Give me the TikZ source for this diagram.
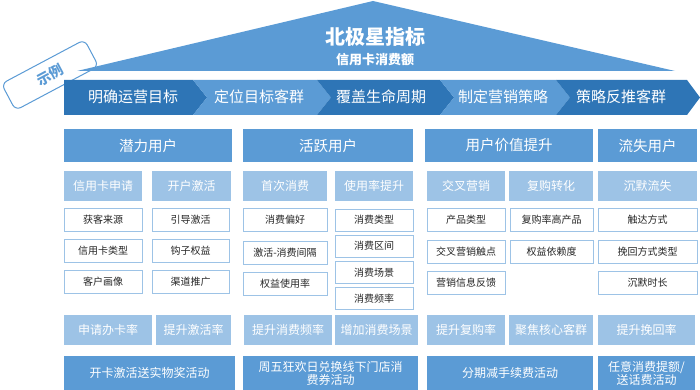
\documentclass[tikz,border=0pt]{standalone}
\usepackage{fontspec}
\setmainfont{Noto Sans CJK SC}
\usepackage{xcolor}
\usetikzlibrary{positioning,calc}
\definecolor{nsdark}{HTML}{2E75B6}
\definecolor{nsmid}{HTML}{5B9BD5}
\definecolor{nslight}{HTML}{9DC3E6}
\definecolor{nstext}{HTML}{262626}

\begin{document}
\begin{tikzpicture}[x=1pt, y=-1pt,
  head/.style={fill=nsmid, text=white, inner sep=0pt, minimum height=33pt, font=\fontsize{14.5}{16}\selectfont},
  sub/.style={fill=nslight, text=white, inner sep=0pt, minimum height=30pt, font=\fontsize{12}{14}\selectfont},
  item/.style={draw=nslight, line width=1pt, fill=white, text=nstext, inner sep=0pt, minimum height=23pt, font=\fontsize{10}{12}\selectfont},
  goal/.style={fill=nslight, text=white, inner sep=0pt, minimum height=30pt, font=\fontsize{12}{14}\selectfont},
  act/.style={fill=nsmid, text=white, inner sep=0pt, minimum height=34pt, align=center, font=\fontsize{12}{13}\selectfont},
  step label/.style={text=white, font=\fontsize{15}{16}\selectfont}
]
  \useasboundingbox (0,0) rectangle (700,390);

  % tag and north star triangle
  \node[draw=nsmid, line width=1pt, fill=white, rounded corners=6pt, rotate=28,
        minimum width=94pt, minimum height=30pt, text=nsmid, font=\fontsize{14}{16}\selectfont\bfseries] (tag) at (50,75) {示例};
  \fill[nsmid] (77,71) -- (373,1) -- (675,71) -- cycle;
  \node[text=white, font=\fontsize{20}{22}\selectfont\bfseries] (star) at (375,37) {北极星指标};
  \node[text=white, font=\fontsize{13}{15}\selectfont\bfseries, below=0pt of star] (metric) {信用卡消费额};

  % process chevrons
  \fill[nsdark] (64,80) -- (193,80) -- (207,97.5) -- (193,115) -- (64,115) -- cycle;
  \fill[nsmid]  (193,80) -- (317,80) -- (331,97.5) -- (317,115) -- (193,115) -- (207,97.5) -- cycle;
  \fill[nsdark] (317,80) -- (440,80) -- (454,97.5) -- (440,115) -- (317,115) -- (331,97.5) -- cycle;
  \fill[nsmid]  (440,80) -- (556,80) -- (570,97.5) -- (556,115) -- (440,115) -- (454,97.5) -- cycle;
  \fill[nsdark] (556,80) -- (687,80) -- (700,97.5) -- (687,115) -- (556,115) -- (570,97.5) -- cycle;
  \node[step label] (s1) at (133,97) {明确运营目标};
  \node[step label] (s2) at (259,97) {定位目标客群};
  \node[step label] (s3) at (381,97) {覆盖生命周期};
  \node[step label] (s4) at (503,97) {制定营销策略};
  \node[step label] (s5) at (621,97) {策略反推客群};

  % user groups
  \node[head, minimum width=168pt] (potential) at (148,145.5) {潜力用户};
  \node[head, minimum width=170pt] (active)    at (328,145.5) {活跃用户};
  \node[head, minimum width=168pt] (value)     at (509,145.5) {用户价值提升};
  \node[head, minimum width=99pt]  (lost)      at (647.5,145.5) {流失用户};

  \node[sub, minimum width=78pt] (apply)    at (103,186)   {信用卡申请};
  \node[sub, minimum width=79pt] (open)     at (191.5,186) {开户激活};
  \node[sub, minimum width=84pt] (first)    at (285,186)   {首次消费};
  \node[sub, minimum width=78pt] (usage)    at (374,186)   {使用率提升};
  \node[sub, minimum width=78pt] (cross)    at (466,186)   {交叉营销};
  \node[sub, minimum width=84pt] (rebuy)    at (551,186)   {复购转化};
  \node[sub, minimum width=99pt] (silent)   at (647.5,186) {沉默流失};

  % analysis items
  \node[item, minimum width=78pt] (a1) at (103,220)   {获客来源};
  \node[item, minimum width=78pt] (a2) at (103,251)   {信用卡类型};
  \node[item, minimum width=78pt] (a3) at (103,281.5) {客户画像};
  \node[item, minimum width=77pt] (b1) at (190.5,220)   {引导激活};
  \node[item, minimum width=77pt] (b2) at (190.5,251)   {钩子权益};
  \node[item, minimum width=77pt] (b3) at (190.5,281.5) {渠道推广};
  \node[item, minimum width=84pt] (c1) at (285,220)   {消费偏好};
  \node[item, minimum width=84pt] (c2) at (285,253)   {激活-消费间隔};
  \node[item, minimum width=84pt] (c3) at (285,283.5) {权益使用率};
  \node[item, minimum width=78pt, minimum height=22pt] (d1) at (374,220)   {消费类型};
  \node[item, minimum width=78pt, minimum height=22pt] (d2) at (374,246)   {消费区间};
  \node[item, minimum width=78pt, minimum height=22pt] (d3) at (374,272.5) {消费场景};
  \node[item, minimum width=78pt, minimum height=22pt] (d4) at (374,298.5) {消费频率};
  \node[item, minimum width=78pt] (e1) at (466,220)   {产品类型};
  \node[item, minimum width=78pt] (e2) at (466,251.5) {交叉营销触点};
  \node[item, minimum width=78pt] (e3) at (466,283)   {营销信息反馈};
  \node[item, minimum width=83pt] (f1) at (551.5,220)   {复购率高产品};
  \node[item, minimum width=83pt] (f2) at (551.5,251.5) {权益依赖度};
  \node[item, minimum width=99pt] (g1) at (647.5,220)   {触达方式};
  \node[item, minimum width=99pt] (g2) at (647.5,251.5) {挽回方式类型};
  \node[item, minimum width=99pt] (g3) at (647.5,283)   {沉默时长};

  % goals
  \node[goal, minimum width=88pt] (k1) at (108,330)   {申请办卡率};
  \node[goal, minimum width=75pt] (k2) at (193.5,330) {提升激活率};
  \node[goal, minimum width=88pt] (k3) at (288,330)   {提升消费频率};
  \node[goal, minimum width=83pt] (k4) at (376.5,330) {增加消费场景};
  \node[goal, minimum width=78pt] (k5) at (466,330)   {提升复购率};
  \node[goal, minimum width=84pt] (k6) at (551,330)   {聚焦核心客群};
  \node[goal, minimum width=97pt] (k7) at (646.5,330) {提升挽回率};

  % campaigns
  \node[act, minimum width=171pt] (m1) at (149.5,373) {开卡激活送实物奖活动};
  \node[act, minimum width=175pt] (m2) at (330.5,373) {周五狂欢日兑换线下门店消\\费券活动};
  \node[act, minimum width=166pt] (m3) at (510,373)   {分期减手续费活动};
  \node[act, minimum width=97pt]  (m4) at (646.5,373) {任意消费提额/\\送话费活动};
\end{tikzpicture}
\end{document}
